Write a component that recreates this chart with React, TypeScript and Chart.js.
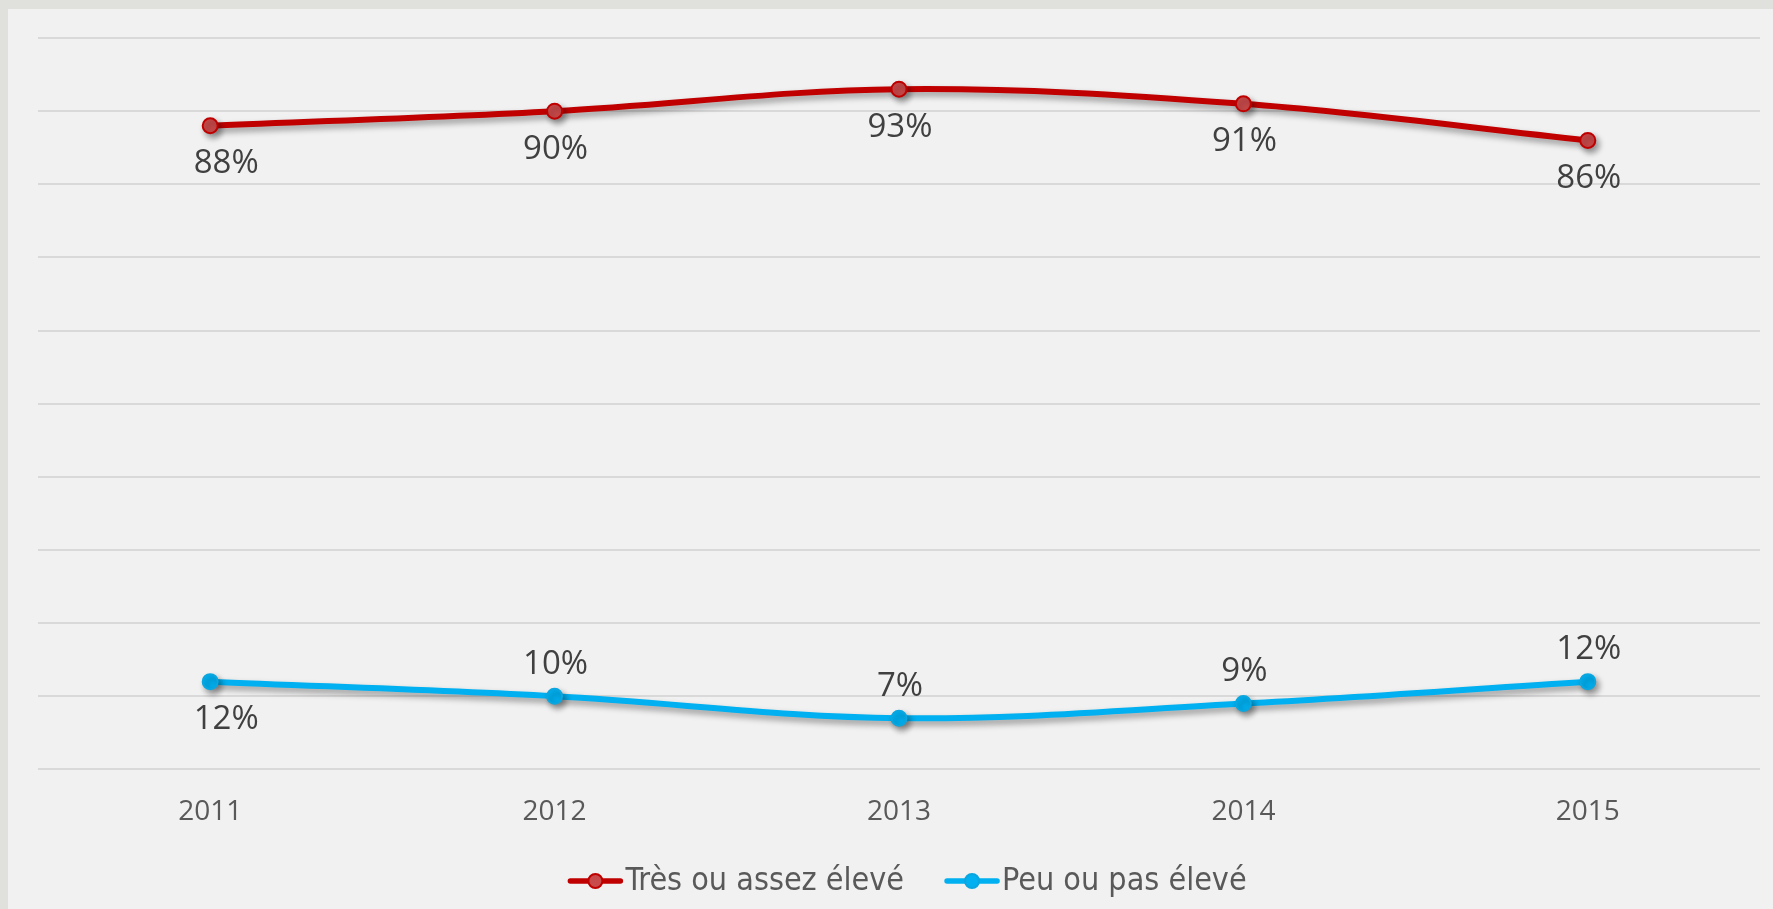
import React, { useEffect, useRef } from "react";
import { Chart, registerables } from "chart.js";

Chart.register(...registerables);

const categories = ["2011", "2012", "2013", "2014", "2015"];
const seriesNames = ["Très ou assez élevé", "Peu ou pas élevé"];
const highValues = [88, 90, 93, 91, 86];
const lowValues = [12, 10, 7, 9, 12];
const yMin = 0;
const yMax = 100;
const yStep = 10;

const RED = "#c00000";
const RED_FILL = "#c94a4a";
const BLUE = "#00b0f0";
const LABEL_COLOR = "#404040";
const TICK_COLOR = "#595959";
const GRID_COLOR = "#d9d9d9";
const LABEL_FONT = "33px 'Open Sans', 'Noto Sans', sans-serif";
const LEGEND_FONT = "32px 'Liberation Sans Narrow', 'Arial Narrow', 'DejaVu Sans Condensed', sans-serif";

// placement of value labels (style), one per point
const highPlacement = ["below", "below", "below", "below", "below"];
const lowPlacement = ["below", "above", "above", "above", "above"];

const shadowPlugin = {
  id: "shadow",
  beforeDatasetDraw(chart: any) {
    const ctx = chart.ctx;
    ctx.save();
    ctx.shadowColor = "rgba(0,0,0,0.38)";
    ctx.shadowBlur = 6;
    ctx.shadowOffsetX = 3;
    ctx.shadowOffsetY = 4;
  },
  afterDatasetDraw(chart: any) {
    chart.ctx.restore();
  },
};

const valueLabelPlugin = {
  id: "valueLabels",
  afterDatasetsDraw(chart: any) {
    const ctx = chart.ctx;
    ctx.save();
    ctx.font = LABEL_FONT;
    ctx.fillStyle = LABEL_COLOR;
    ctx.textAlign = "center";
    ctx.textBaseline = "middle";
    chart.data.datasets.forEach((ds: any, di: number) => {
      const meta = chart.getDatasetMeta(di);
      meta.data.forEach((pt: any, i: number) => {
        const place = ds.placement[i];
        const dy = place === "below" ? 38 : -32;
        const dx = i === 0 ? 16 : 1;
        ctx.fillText(ds.data[i] + "%", pt.x + dx, pt.y + dy);
      });
    });
    ctx.restore();
  },
};

const legendPlugin = {
  id: "customLegend",
  afterDraw(chart: any) {
    const ctx = chart.ctx;
    ctx.save();
    ctx.font = LEGEND_FONT;
    ctx.textBaseline = "middle";
    ctx.textAlign = "left";
    const y = 872;
    const markerW = 56;
    const gapText = 2;
    const gapItem = 40;
    const widths = chart.data.datasets.map(
      (ds: any) => markerW + gapText + ctx.measureText(ds.label).width
    );
    const total = widths.reduce((a: number, b: number) => a + b, 0) + gapItem * (widths.length - 1);
    const center = (chart.chartArea.left + chart.chartArea.right) / 2 + 8;
    let x = center - total / 2;
    chart.data.datasets.forEach((ds: any, i: number) => {
      ctx.strokeStyle = ds.borderColor;
      ctx.lineWidth = 5.5;
      ctx.lineCap = "round";
      ctx.beginPath();
      ctx.moveTo(x + 3, y);
      ctx.lineTo(x + markerW - 3, y);
      ctx.stroke();
      ctx.beginPath();
      ctx.arc(x + markerW / 2, y, 7, 0, Math.PI * 2);
      ctx.fillStyle = ds.pointBackgroundColor;
      ctx.fill();
      ctx.lineWidth = 2;
      ctx.strokeStyle = ds.pointBorderColor;
      ctx.stroke();
      ctx.fillStyle = TICK_COLOR;
      ctx.fillText(ds.label, x + markerW + gapText, y + 1);
      x += widths[i] + gapItem;
    });
    ctx.restore();
  },
};

export default function App() {
  const canvasRef = useRef<HTMLCanvasElement | null>(null);

  useEffect(() => {
    if (!canvasRef.current) return;
    const chart = new Chart(canvasRef.current, {
      type: "line",
      data: {
        labels: categories,
        datasets: [
          {
            label: seriesNames[0],
            data: highValues,
            borderColor: RED,
            backgroundColor: RED,
            pointBackgroundColor: RED_FILL,
            pointBorderColor: RED,
            borderWidth: 6,
            pointRadius: 7.5,
            pointBorderWidth: 2,
            tension: 0.35,
            fill: false,
            placement: highPlacement,
          } as any,
          {
            label: seriesNames[1],
            data: lowValues,
            borderColor: BLUE,
            backgroundColor: BLUE,
            pointBackgroundColor: BLUE,
            pointBorderColor: "#0aa6e0",
            borderWidth: 6,
            pointRadius: 7.5,
            pointBorderWidth: 2,
            tension: 0.35,
            fill: false,
            placement: lowPlacement,
          } as any,
        ],
      },
      options: {
        animation: false,
        responsive: false,
        devicePixelRatio: 1,
        layout: { padding: { left: 30, right: 13, top: 29, bottom: 62 } },
        plugins: {
          legend: { display: false },
          tooltip: { enabled: false },
        },
        scales: {
          x: {
            offset: true,
            grid: { display: false },
            border: { display: false },
            ticks: {
              color: TICK_COLOR,
              padding: 18,
              font: { family: "'Open Sans', 'Noto Sans', sans-serif", size: 28 },
            },
          },
          y: {
            min: yMin,
            max: yMax,
            ticks: { display: false, stepSize: yStep },
            border: { display: false },
            grid: { color: GRID_COLOR, lineWidth: 2, drawTicks: false },
          },
        },
      },
      plugins: [shadowPlugin, valueLabelPlugin, legendPlugin],
    });
    return () => chart.destroy();
  }, []);

  return (
    <div
      style={{
        position: "fixed",
        left: 0,
        top: 0,
        width: 1773,
        height: 909,
        background: "#e0e0dc",
        overflow: "hidden",
      }}
    >
      <div
        style={{
          position: "absolute",
          left: 8,
          top: 9,
          width: 1765,
          height: 900,
          background: "#f1f1f1",
        }}
      >
        <canvas ref={canvasRef} width={1765} height={900} style={{ display: "block" }} />
      </div>
    </div>
  );
}
